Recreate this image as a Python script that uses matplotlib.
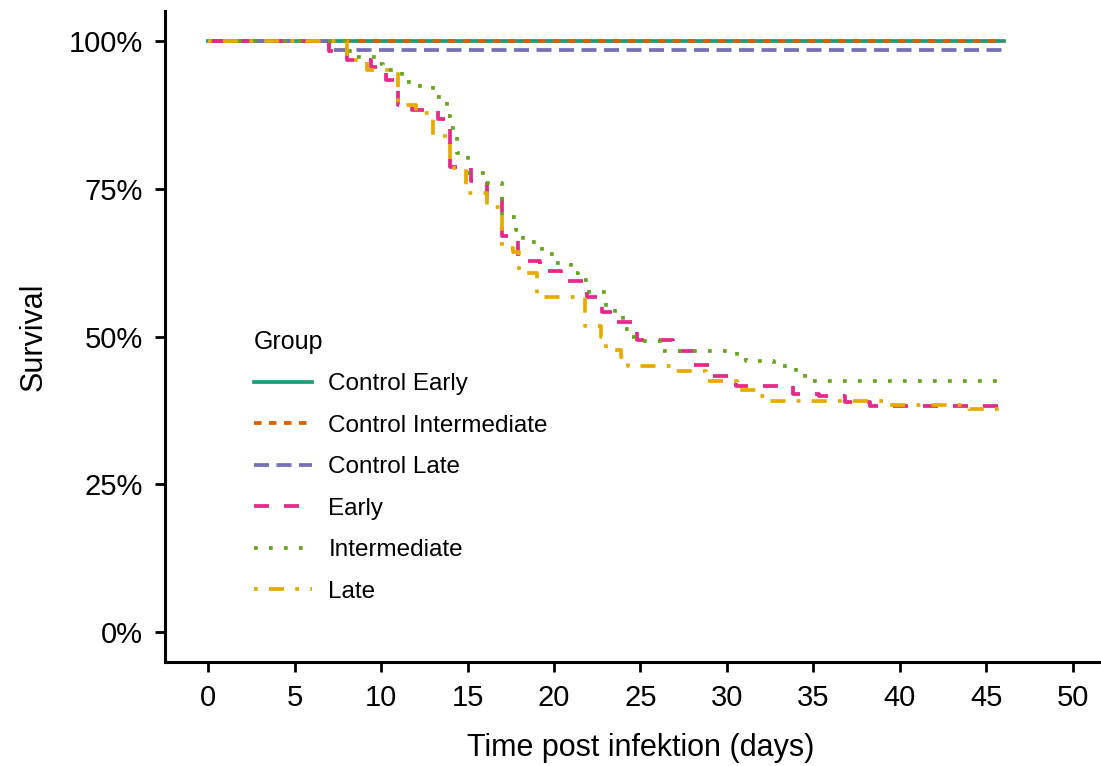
import matplotlib
matplotlib.use("Agg")
from matplotlib import pyplot as plt

plt.rcParams['font.family'] = ['Liberation Sans', 'DejaVu Sans']

groups = ["Control Early", "Control Intermediate", "Control Late", "Early", "Intermediate", "Late"]
colors = ["#1B9E77", "#D95F02", "#7570B3", "#E7298A", "#66A61E", "#E6AB02"]
dashes = [None, (2, 2), (4, 2), (4, 4), (1, 3), (1, 3, 4, 3)]

# Kaplan-Meier steps: (time in days, survival in %)
ctrl_early_t = [0, 46]
ctrl_early_s = [100, 100]

ctrl_inter_t = [0, 46]
ctrl_inter_s = [100, 100]

ctrl_late_t = [0, 7, 46]
ctrl_late_s = [100, 98.4, 98.4]

early_t = [0, 7, 8, 9.4, 10.3, 11, 11.8, 13.3, 14, 15.2, 16.1, 17, 17.9, 19.2, 20.4,
           21.9, 22.8, 23.5, 24.8, 26.9, 28.1, 29.2, 30.5, 33.8, 35.3, 36.8, 38.3, 46]
early_s = [100, 98.3, 96.8, 95.6, 93.4, 89.2, 88.3, 86.7, 78.7, 76.3, 73.6, 67.0, 62.7, 61.0, 59.3,
           56.6, 54.2, 52.4, 49.4, 47.6, 45.1, 43.3, 41.6, 40.2, 39.9, 39.0, 38.2, 38.2]

inter_t = [0, 8, 8.3, 9.8, 10.1, 11.2, 12, 13, 13.8, 14, 14.4, 15, 16, 17, 17.8, 18.2, 19.3,
           20, 21, 21.4, 22, 23, 23.5, 24, 24.5, 25, 26.3, 30.6, 31.1, 32.7, 34, 34.5, 46]
inter_s = [100, 98.3, 97.3, 96.0, 95.0, 93.0, 92.4, 90.4, 87.2, 85.3, 81.0, 77.7, 76.0, 70.2, 68.0, 65.9, 63.9,
           62.5, 60.8, 59.6, 57.6, 55.0, 54.0, 51.2, 50.0, 49.2, 47.5, 46.6, 45.8, 45.0, 43.6, 42.4, 42.4]

late_t = [0, 8, 9.2, 11, 12, 13, 14, 14.9, 16.1, 17, 17.6, 18, 19, 21.8, 22.7, 23, 23.9,
          24.3, 27, 28.8, 30.6, 31.7, 32.3, 39.3, 44, 46]
late_s = [100, 96.8, 95.1, 89.2, 87.8, 83.8, 78.5, 74.3, 71.8, 65.0, 64.2, 60.8, 56.6, 51.7, 50.0, 47.8, 46.6,
          45.0, 44.2, 42.4, 41.0, 39.9, 39.1, 38.5, 37.7, 37.7]

times = [ctrl_early_t, ctrl_inter_t, ctrl_late_t, early_t, inter_t, late_t]
survs = [ctrl_early_s, ctrl_inter_s, ctrl_late_s, early_s, inter_s, late_s]

x_ticks = [0, 5, 10, 15, 20, 25, 30, 35, 40, 45, 50]
y_ticks = [0, 25, 50, 75, 100]
y_labels = ["0%", "25%", "50%", "75%", "100%"]


def main():
    fig = plt.figure(figsize=(11.01, 7.66), dpi=100)
    ax = fig.add_axes([165 / 1101, 1 - 662 / 766, 951 / 1101, 651 / 766])

    for g, t, s, c, d in zip(groups, times, survs, colors, dashes):
        line, = ax.step(t, s, where="post", color=c, lw=2.7, label=g)
        if d is not None:
            line.set_dashes(d)

    ax.set_xlim(-2.5, 52.5)
    ax.set_ylim(-5, 105)
    ax.set_xticks(x_ticks)
    ax.set_yticks(y_ticks)
    ax.set_yticklabels(y_labels)
    ax.tick_params(labelsize=21, length=7.2, width=2, colors="black")
    ax.tick_params(axis="y", pad=8.5)
    ax.tick_params(axis="x", pad=9)

    for side in ["top", "right"]:
        ax.spines[side].set_visible(False)
    for side in ["left", "bottom"]:
        ax.spines[side].set_linewidth(2.2)

    ax.set_xlabel("Time post infektion (days)", fontsize=22, labelpad=15)
    ax.set_ylabel("Survival", fontsize=22, labelpad=15)

    leg = ax.legend(loc="upper left", bbox_to_anchor=(254 / 1101, 1 - 330 / 766),
                    bbox_transform=fig.transFigure, frameon=False, title="Group",
                    fontsize=17.5, title_fontsize=18, handlelength=2.4, handletextpad=0.66,
                    labelspacing=0.8, borderpad=0, borderaxespad=0, alignment="left")

    fig.savefig("out.png", dpi=100)


if __name__ == '__main__':
    main()
